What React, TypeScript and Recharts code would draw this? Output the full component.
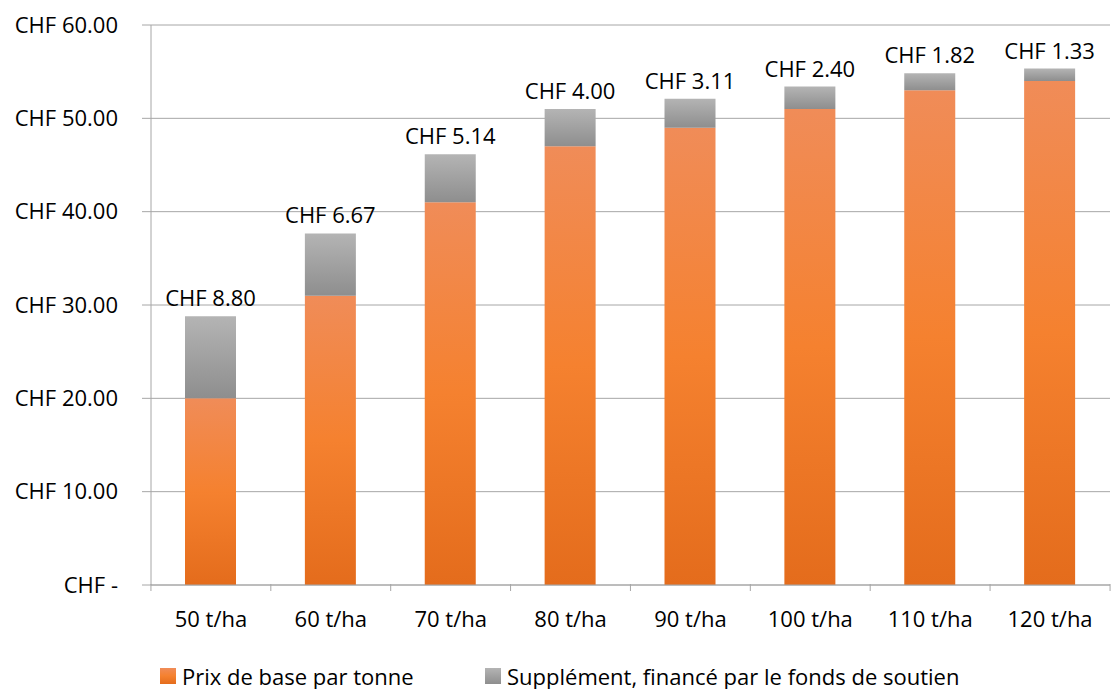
import { BarChart, Bar, XAxis, YAxis, CartesianGrid, Legend, LabelList } from "recharts";

const categories = ["50 t/ha", "60 t/ha", "70 t/ha", "80 t/ha", "90 t/ha", "100 t/ha", "110 t/ha", "120 t/ha"];
const basePrice = [20, 31, 41, 47, 49, 51, 53, 54];
const supplement = [8.8, 6.67, 5.14, 4.0, 3.11, 2.4, 1.82, 1.33];
const yTicks = [0, 10, 20, 30, 40, 50, 60];

const data = categories.map((c, i) => ({ name: c, base: basePrice[i], supp: supplement[i] }));

const FONT = "'Open Sans', sans-serif";
const FS = 22;
const GRID = "#a6a6a6";

const fmtY = (v: number) => (v === 0 ? "CHF -" : `CHF ${v.toFixed(2)}`);

function XTick(props: any) {
  const { x, y, payload, index, visibleTicksCount } = props;
  const step = 120;
  return (
    <g>
      <line x1={x - step / 2} x2={x - step / 2} y1={y - 9} y2={y - 2} stroke={GRID} />
      {index === visibleTicksCount - 1 && (
        <line x1={x + step / 2} x2={x + step / 2} y1={y - 9} y2={y - 2} stroke={GRID} />
      )}
      <text x={x} y={y + 34} textAnchor="middle" fontSize={FS} fill="#000" fontFamily={FONT}>
        {payload.value}
      </text>
    </g>
  );
}

function TopLabel(props: any) {
  const { x, y, width, value } = props;
  return (
    <text x={x + width / 2} y={y - 10} textAnchor="middle" fontSize={FS} fill="#000" fontFamily={FONT}>
      {`CHF ${Number(value).toFixed(2)}`}
    </text>
  );
}

function LegendBox() {
  const item = (grad: string, label: string, left: number) => (
    <div style={{ position: "absolute", left, top: 18, display: "flex", alignItems: "center", height: 26, lineHeight: "26px" }}>
      <div style={{ width: 16, height: 16, background: grad, marginRight: 6 }} />
      <span style={{ whiteSpace: "nowrap" }}>{label}</span>
    </div>
  );
  return (
    <div style={{ position: "relative", height: 44, fontFamily: FONT, fontSize: FS, color: "#000" }}>
      {item("linear-gradient(#f08c58, #f5812f 50%, #e46c1c)", "Prix de base par tonne", 160)}
      {item("linear-gradient(#b4b4b4, #8e8e8e)", "Supplément, financé par le fonds de soutien", 485)}
    </div>
  );
}

export default function App() {
  return (
    <div style={{ width: 1114, height: 689, background: "#fff" }}>
      <style>{"body{margin:0}"}</style>
      <BarChart width={1114} height={689} data={data} margin={{ top: 25, right: 4, left: 0, bottom: 0 }}>
        <defs>
          <linearGradient id="gOrange" x1="0" y1="0" x2="0" y2="1">
            <stop offset="0%" stopColor="#f08c58" />
            <stop offset="50%" stopColor="#f5812f" />
            <stop offset="100%" stopColor="#e46c1c" />
          </linearGradient>
          <linearGradient id="gGray" x1="0" y1="0" x2="0" y2="1">
            <stop offset="0%" stopColor="#b4b4b4" />
            <stop offset="100%" stopColor="#8e8e8e" />
          </linearGradient>
        </defs>
        <CartesianGrid vertical={false} stroke={GRID} />
        <XAxis
          dataKey="name"
          height={60}
          axisLine={{ stroke: GRID }}
          tickLine={false}
          tick={<XTick />}
          interval={0}
        />
        <YAxis
          width={151}
          domain={[0, 60]}
          ticks={yTicks}
          tickFormatter={fmtY}
          axisLine={{ stroke: GRID }}
          tickLine={{ stroke: GRID }}
          tickSize={9}
          tickMargin={24}
          tick={{ fontSize: FS, fill: "#000", fontFamily: FONT }}
        />
        <Legend
          content={<LegendBox />}
          wrapperStyle={{ position: "absolute", left: 0, top: 645, width: 1114, height: 44 }}
        />
        <Bar dataKey="base" stackId="a" name="Prix de base par tonne" fill="url(#gOrange)" barSize={51} isAnimationActive={false} />
        <Bar dataKey="supp" stackId="a" name="Supplément, financé par le fonds de soutien" fill="url(#gGray)" barSize={51} isAnimationActive={false}>
          <LabelList dataKey="supp" content={<TopLabel />} />
        </Bar>
      </BarChart>
    </div>
  );
}
